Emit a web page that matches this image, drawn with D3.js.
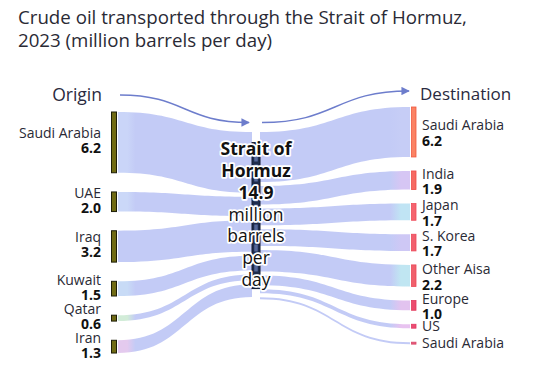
<!DOCTYPE html>
<html><head><meta charset="utf-8">
<script src="https://cdn.jsdelivr.net/npm/d3@7"></script>
<style>
html,body{margin:0;padding:0;background:#fff;}
svg{display:block;font-family:"Open Sans",sans-serif;}
</style></head>
<body><svg id="c" width="533" height="367"></svg>
<script>
// ---- data ----
const titleLines = ["Crude oil transported through the Strait of Hormuz,", "2023 (million barrels per day)"];
const origins = ["Saudi Arabia", "UAE", "Iraq", "Kuwait", "Qatar", "Iran"];
const originValues = [6.2, 2.0, 3.2, 1.5, 0.6, 1.3];
const destinations = ["Saudi Arabia", "India", "Japan", "S. Korea", "Other Aisa", "Europe", "US", "Saudi Arabia"];
const destValues = [5.1, 1.9, 1.7, 1.7, 2.2, 1.0, 0.4, 0.2];   // widths as drawn
const destLabels = ["6.2", "1.9", "1.7", "1.7", "2.2", "1.0", "", ""];
const straitTotal = 14.9;
const centerLines = ["Strait of", "Hormuz", "14.9", "million", "barrels", "per", "day"];
const centerBold = [true, true, true, false, false, false, false];

// ---- styles ----
const flowColor = "#c3cbf6";
const originTints = ["#cad5f8", "#cbd8f8", "#c3cbf6", "#c8dbf6", "#d2ecd8", "#e4caee"];
const destTints = ["#c6cdf6", "#d6c6f4", "#c0e4f4", "#cec8f5", "#c0e6f2", "#e2c3ef", "#e8c3f0", "#c3cbf6"];
const destColors = ["#fb8364", "#f66a62", "#f5646e", "#f2606e", "#f0606c", "#ec4c6e", "#ec4c72", "#e4587a"];
const destStroke = ["#f0573e", "#ee4c48", "#ee4a58", "#ec4858", "#ea4858", "#e23a5c", "#e23a62", "#da4a6a"];

const svg = d3.select("#c");
const defs = svg.append("defs");

const k = d3.scaleLinear().domain([0, straitTotal]).range([0, 146]);

// x positions
const xL0 = 111.5, xL1 = 116.5, xM0 = 252, xM1 = 260, xR0 = 411.5, xR1 = 416;

function stack(values, start, gap) {
  let y = start;
  return values.map(v => { const o = {y0: y, y1: y + k(v)}; y = o.y1 + gap; return o; });
}
const leftPos = stack(originValues, 112, 19.2);
const leftMid = stack(originValues, 132, 4);
const rightPos = stack(destValues, 107, 14);
const rightMid = stack(destValues, 132, 4);

function ribbon(x0, x1, s, t) {
  const xm = (x0 + x1) / 2;
  const p = d3.path();
  p.moveTo(x0, s.y0);
  p.bezierCurveTo(xm, s.y0, xm, t.y0, x1, t.y0);
  p.lineTo(x1, t.y1);
  p.bezierCurveTo(xm, t.y1, xm, s.y1, x0, s.y1);
  p.closePath();
  return p.toString();
}

// gradients
originValues.forEach((v, i) => {
  const g = defs.append("linearGradient").attr("id", "gl" + i)
    .attr("gradientUnits", "userSpaceOnUse").attr("x1", xL1).attr("x2", xM0).attr("y1", 0).attr("y2", 0);
  g.append("stop").attr("offset", 0).attr("stop-color", originTints[i]);
  g.append("stop").attr("offset", 0.08).attr("stop-color", originTints[i]);
  g.append("stop").attr("offset", 0.14).attr("stop-color", flowColor);
});
destValues.forEach((v, i) => {
  const g = defs.append("linearGradient").attr("id", "gr" + i)
    .attr("gradientUnits", "userSpaceOnUse").attr("x1", xM1).attr("x2", xR0).attr("y1", 0).attr("y2", 0);
  g.append("stop").attr("offset", 0.86).attr("stop-color", flowColor);
  g.append("stop").attr("offset", 0.93).attr("stop-color", destTints[i]);
  g.append("stop").attr("offset", 1).attr("stop-color", destTints[i]);
});

// flows
svg.append("g").selectAll("path").data(originValues).join("path")
  .attr("d", (v, i) => ribbon(xL1 + 1.5, xM0, leftPos[i], leftMid[i]))
  .attr("fill", (v, i) => `url(#gl${i})`);
svg.append("g").selectAll("path").data(destValues).join("path")
  .attr("d", (v, i) => ribbon(xM1, xR0 - 1.5, rightMid[i], rightPos[i]))
  .attr("fill", (v, i) => `url(#gr${i})`);

// left bars
svg.append("g").selectAll("rect").data(originValues).join("rect")
  .attr("x", xL0).attr("width", xL1 - xL0)
  .attr("y", (v, i) => leftPos[i].y0).attr("height", (v, i) => leftPos[i].y1 - leftPos[i].y0)
  .attr("fill", "#6f6a14").attr("stroke", "#1e1e08").attr("stroke-width", 1);

// right bars
svg.append("g").selectAll("rect").data(destValues).join("rect")
  .attr("x", xR0).attr("width", xR1 - xR0)
  .attr("y", (v, i) => rightPos[i].y0).attr("height", (v, i) => rightPos[i].y1 - rightPos[i].y0)
  .attr("fill", (v, i) => destColors[i]).attr("stroke", (v, i) => destStroke[i]).attr("stroke-width", 0.8);

// middle bar
const midTop = (132 + rightMid[rightMid.length - 1].y1) / 2 - k(straitTotal) / 2;
svg.append("rect").attr("x", xM0).attr("width", xM1 - xM0)
  .attr("y", midTop).attr("height", k(straitTotal))
  .attr("fill", "#1f2c4c").attr("stroke", "#121a30");
svg.append("line").attr("x1", (xM0 + xM1) / 2).attr("x2", (xM0 + xM1) / 2)
  .attr("y1", midTop + 2).attr("y2", midTop + k(straitTotal) - 2)
  .attr("stroke", "#56689a").attr("stroke-width", 3.5).attr("stroke-dasharray", "7,3");

// arrows
const marker = defs.append("marker").attr("id", "ah").attr("viewBox", "0 0 10 10")
  .attr("refX", 9).attr("refY", 5).attr("markerWidth", 6).attr("markerHeight", 6)
  .attr("orient", "auto");
marker.append("path").attr("d", "M0,0 L10,5 L0,10 z").attr("fill", "#6d7dcc");
const linkGen = d3.linkHorizontal();
svg.append("path").attr("d", linkGen({source: [120, 95], target: [249, 122.5]}))
  .attr("fill", "none").attr("stroke", "#6d7dcc").attr("stroke-width", 1.4).attr("marker-end", "url(#ah)");
svg.append("path").attr("d", linkGen({source: [262, 122.5], target: [409, 91]}))
  .attr("fill", "none").attr("stroke", "#6d7dcc").attr("stroke-width", 1.4).attr("marker-end", "url(#ah)");

// title
svg.append("g").selectAll("text").data(titleLines).join("text")
  .attr("x", 18).attr("y", (d, i) => 24 + i * 23)
  .attr("font-size", 18.7).attr("fill", "#2a2a35").text(d => d);

// headers
svg.append("text").attr("x", 102).attr("y", 101).attr("text-anchor", "end")
  .attr("font-size", 17.5).attr("fill", "#2a2a40").text("Origin");
svg.append("text").attr("x", 420).attr("y", 100)
  .attr("font-size", 17).attr("fill", "#2a2a40").text("Destination");

// left labels
const lg = svg.append("g").attr("text-anchor", "end");
origins.forEach((n, i) => {
  const c = (leftPos[i].y0 + leftPos[i].y1) / 2;
  lg.append("text").attr("x", 101).attr("y", c - 9).attr("dy", "0.35em")
    .attr("font-size", 14).attr("fill", "#2a2a35").text(n);
  lg.append("text").attr("x", 101).attr("y", c + 6).attr("dy", "0.35em")
    .attr("font-size", 14).attr("font-weight", 700).attr("fill", "#111").text(originValues[i].toFixed(1));
});

// right labels
const rg = svg.append("g");
destinations.forEach((n, i) => {
  const c = (rightPos[i].y0 + rightPos[i].y1) / 2;
  const hasVal = destLabels[i] !== "";
  rg.append("text").attr("x", 422).attr("y", hasVal ? c - 6.5 : c).attr("dy", "0.35em")
    .attr("font-size", 14).attr("fill", "#2a2a35").text(n);
  if (hasVal) rg.append("text").attr("x", 422).attr("y", c + 9).attr("dy", "0.35em")
    .attr("font-size", 14).attr("font-weight", 700).attr("fill", "#111").text(destLabels[i]);
});

// center text
svg.append("g").attr("text-anchor", "middle").selectAll("text").data(centerLines).join("text")
  .attr("x", 256).attr("y", (d, i) => 149 + i * 21.8).attr("dy", "0.35em")
  .attr("font-size", 17.5).attr("font-weight", (d, i) => centerBold[i] ? 700 : 400)
  .attr("fill", "#111").attr("stroke", "#fff").attr("stroke-width", 3.5)
  .attr("stroke-linejoin", "round").attr("paint-order", "stroke")
  .text(d => d);
</script></body></html>
